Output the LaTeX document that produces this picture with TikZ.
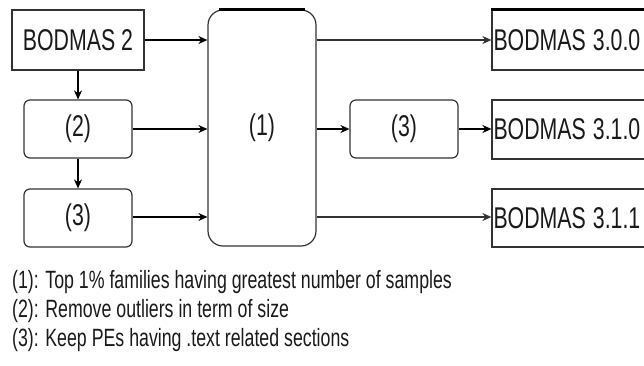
\documentclass[tikz,border=0pt]{standalone}
\usepackage{fontspec}
\usepackage{graphicx}
\setmainfont{Liberation Sans}
\usetikzlibrary{arrows.meta}
\definecolor{ln}{HTML}{333333}
\definecolor{tx}{HTML}{1A1A1A}
\newcommand{\sqz}[1]{\scalebox{0.71}[1]{#1}}
\begin{document}
\begin{tikzpicture}[x=1pt,y=-1pt,
  box/.style={draw=ln,line width=1.2pt,fill=white,text=tx,inner sep=0pt,font=\fontsize{30}{32}\selectfont},
  rbox/.style={box,rounded corners=6pt},
  leg/.style={anchor=base west,inner sep=0pt,text=tx,font=\fontsize{25}{28}\selectfont},
  arr/.style={draw=black,line width=1.2pt,-{Stealth[length=9pt,width=8pt]}},
  garr/.style={arr,draw=ln}]
\useasboundingbox (0,0) rectangle (644,365);
\clip (0,0) rectangle (644,365);
\node[box,line width=1.8pt,minimum width=132pt,minimum height=60pt] (b2) at (78,40) {\sqz{BODMAS 2}};
\node[rbox,minimum width=108pt,minimum height=58pt] (p2) at (78,129) {\sqz{(2)}};
\node[rbox,minimum width=108pt,minimum height=58pt] (p3) at (78,218) {\sqz{(3)}};
\node[box,rounded corners=15pt,minimum width=108pt,minimum height=236pt] (p1) at (262,128) {\sqz{(1)}};
\node[rbox,minimum width=108pt,minimum height=58pt] (q3) at (404,129) {\sqz{(3)}};
\node[box,minimum width=208pt,minimum height=60pt,text width=205pt,align=left] (o0) at (596,40) {\sqz{BODMAS 3.0.0}};
\node[box,minimum width=208pt,minimum height=59pt,text width=205pt,align=left] (o1) at (596,129.5) {\sqz{BODMAS 3.1.0}};
\node[box,minimum width=208pt,minimum height=58pt,text width=205pt,align=left] (o2) at (596,218) {\sqz{BODMAS 3.1.1}};
\draw[line width=2.4pt] ([xshift=12pt]p1.north west) -- ([xshift=-12pt]p1.north east);
\draw[line width=2.4pt] (o0.north west) -- (o0.north east);
\draw[arr] (b2.east) -- (b2.east -| p1.west);
\draw[arr] (p2.east) -- (p2.east -| p1.west);
\draw[arr] ([yshift=1pt]p3.east) -- ([yshift=1pt]p3.east -| p1.west);
\draw[arr] (b2.south) -- (p2.north);
\draw[arr] (p2.south) -- (p3.north);
\draw[garr] (p1.east |- o0.west) -- (o0.west);
\draw[arr] (p1.east |- q3.west) -- (q3.west);
\draw[arr] (q3.east) -- (q3.east -| o1.west);
\draw[garr] ([yshift=1pt]p1.east |- o2.west) -- ([yshift=1pt]o2.west);
\node[leg] (l1) at (12,288) {\sqz{(1): Top 1\% families having greatest number of samples}};
\node[leg] (l2) at (12,317) {\sqz{(2): Remove outliers in term of size}};
\node[leg] (l3) at (12,346) {\sqz{(3): Keep PEs having .text related sections}};
\end{tikzpicture}
\end{document}
